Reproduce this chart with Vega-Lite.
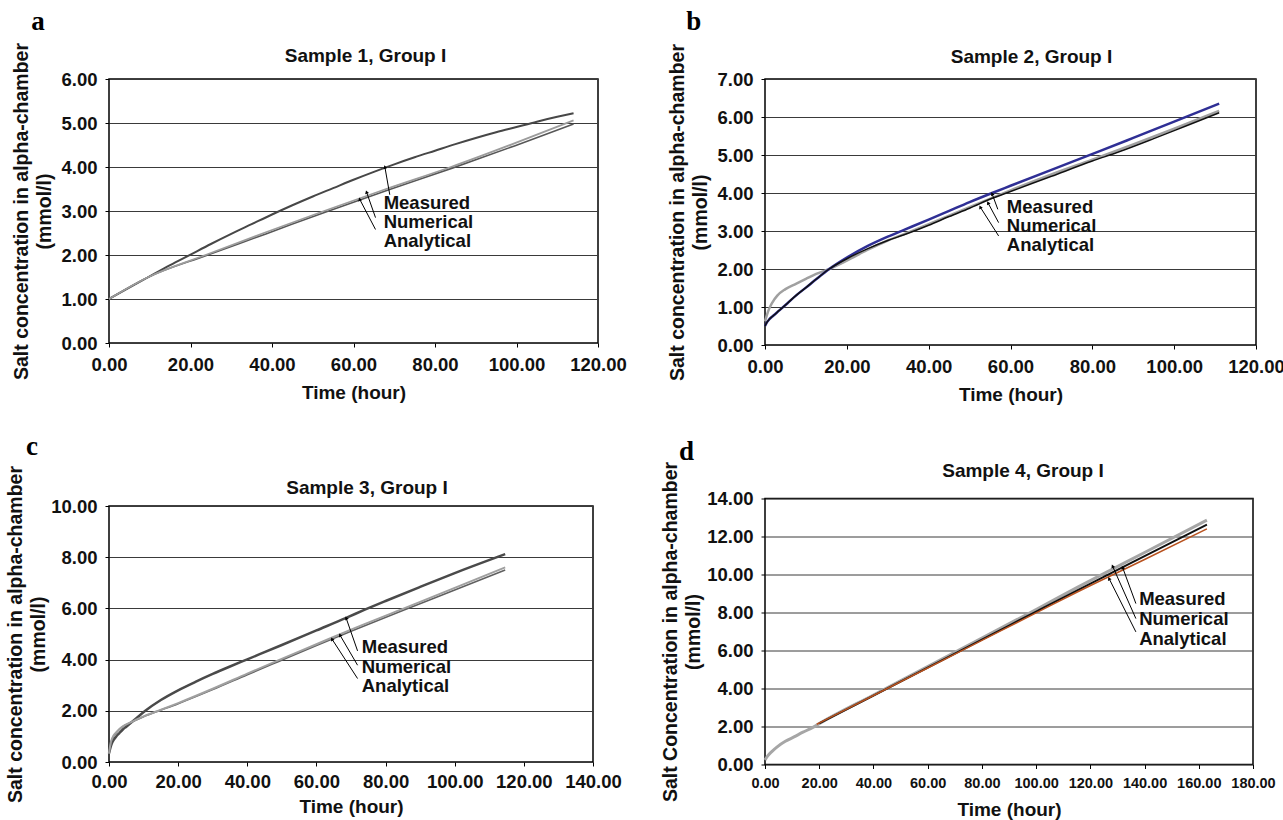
{
"$schema": "https://vega.github.io/schema/vega-lite/v6.json",
"background": "white",
"padding": {"left": 4, "top": 7, "right": 0, "bottom": 0},
"datasets": {
"a_lines": [
{"s":"Measured","t":0,"v":1.0},{"s":"Measured","t":9.7,"v":1.5},{"s":"Measured","t":15,"v":1.77},{"s":"Measured","t":20,"v":2.01},{"s":"Measured","t":25,"v":2.25},{"s":"Measured","t":30,"v":2.48},{"s":"Measured","t":35,"v":2.7},{"s":"Measured","t":40,"v":2.92},{"s":"Measured","t":45,"v":3.13},{"s":"Measured","t":50,"v":3.33},{"s":"Measured","t":55,"v":3.52},{"s":"Measured","t":60,"v":3.71},{"s":"Measured","t":65,"v":3.89},{"s":"Measured","t":70,"v":4.06},{"s":"Measured","t":75,"v":4.22},{"s":"Measured","t":80,"v":4.37},{"s":"Measured","t":85,"v":4.52},{"s":"Measured","t":90,"v":4.66},{"s":"Measured","t":95,"v":4.79},{"s":"Measured","t":100,"v":4.91},{"s":"Measured","t":105,"v":5.03},{"s":"Measured","t":110,"v":5.14},{"s":"Measured","t":114,"v":5.22},
{"s":"Numerical","t":0,"v":1.0},{"s":"Numerical","t":9.7,"v":1.5},{"s":"Numerical","t":23.7,"v":2.0},{"s":"Numerical","t":38,"v":2.5},{"s":"Numerical","t":52.8,"v":3.0},{"s":"Numerical","t":68,"v":3.5},{"s":"Numerical","t":83.9,"v":4.0},{"s":"Numerical","t":99,"v":4.52},{"s":"Numerical","t":114,"v":5.06},
{"s":"Analytical","t":0,"v":1.0},{"s":"Analytical","t":9.7,"v":1.5},{"s":"Analytical","t":23.9,"v":1.99},{"s":"Analytical","t":38.5,"v":2.48},{"s":"Analytical","t":53.2,"v":2.98},{"s":"Analytical","t":68.5,"v":3.48},{"s":"Analytical","t":84.4,"v":3.98},{"s":"Analytical","t":99.5,"v":4.48},{"s":"Analytical","t":114,"v":4.98}
],
"a_arrows": [
{"t":67.7,"v":4.0,"t2":68.9,"v2":3.37},{"t":63.2,"v":3.43,"t2":65.4,"v2":2.85},{"t":61.5,"v":3.27,"t2":65.4,"v2":2.58}
],
"a_notes": [
{"t":67.4,"v":3.19,"label":"Measured"},{"t":67.4,"v":2.755,"label":"Numerical"},{"t":67.4,"v":2.32,"label":"Analytical"}
],
"b_lines": [
{"s":"Measured","t":0,"v":0.5},{"s":"Measured","t":0.5,"v":0.6},{"s":"Measured","t":1,"v":0.67},{"s":"Measured","t":2,"v":0.77},{"s":"Measured","t":3.5,"v":0.91},{"s":"Measured","t":5.5,"v":1.1},{"s":"Measured","t":7.55,"v":1.3},{"s":"Measured","t":10,"v":1.51},{"s":"Measured","t":12.5,"v":1.73},{"s":"Measured","t":15.7,"v":2.0},{"s":"Measured","t":20,"v":2.3},{"s":"Measured","t":25,"v":2.6},{"s":"Measured","t":30,"v":2.85},{"s":"Measured","t":34,"v":3.03},{"s":"Measured","t":40,"v":3.3},{"s":"Measured","t":45,"v":3.53},{"s":"Measured","t":50,"v":3.76},{"s":"Measured","t":55.5,"v":4.0},{"s":"Measured","t":60,"v":4.19},{"s":"Measured","t":70,"v":4.61},{"s":"Measured","t":81.8,"v":5.1},{"s":"Measured","t":90,"v":5.45},{"s":"Measured","t":100,"v":5.88},{"s":"Measured","t":111,"v":6.35},
{"s":"Numerical","t":0,"v":0.62},{"s":"Numerical","t":0.5,"v":0.8},{"s":"Numerical","t":1,"v":0.95},{"s":"Numerical","t":1.86,"v":1.13},{"s":"Numerical","t":3,"v":1.3},{"s":"Numerical","t":5,"v":1.47},{"s":"Numerical","t":7.55,"v":1.61},{"s":"Numerical","t":10,"v":1.74},{"s":"Numerical","t":12.5,"v":1.87},{"s":"Numerical","t":15.7,"v":2.0},{"s":"Numerical","t":20,"v":2.22},{"s":"Numerical","t":25,"v":2.5},{"s":"Numerical","t":30,"v":2.75},{"s":"Numerical","t":34,"v":2.92},{"s":"Numerical","t":40,"v":3.18},{"s":"Numerical","t":50,"v":3.63},{"s":"Numerical","t":60,"v":4.07},{"s":"Numerical","t":70,"v":4.49},{"s":"Numerical","t":80,"v":4.88},{"s":"Numerical","t":90,"v":5.28},{"s":"Numerical","t":100,"v":5.69},{"s":"Numerical","t":111,"v":6.16},
{"s":"Analytical","t":0,"v":0.5},{"s":"Analytical","t":0.5,"v":0.6},{"s":"Analytical","t":1,"v":0.67},{"s":"Analytical","t":2,"v":0.77},{"s":"Analytical","t":3.5,"v":0.91},{"s":"Analytical","t":5.5,"v":1.1},{"s":"Analytical","t":7.55,"v":1.3},{"s":"Analytical","t":10,"v":1.51},{"s":"Analytical","t":12.5,"v":1.73},{"s":"Analytical","t":15.7,"v":2.0},{"s":"Analytical","t":20,"v":2.27},{"s":"Analytical","t":25,"v":2.53},{"s":"Analytical","t":30,"v":2.75},{"s":"Analytical","t":34,"v":2.9},{"s":"Analytical","t":40,"v":3.15},{"s":"Analytical","t":45,"v":3.38},{"s":"Analytical","t":50,"v":3.6},{"s":"Analytical","t":55.5,"v":3.86},{"s":"Analytical","t":60,"v":4.04},{"s":"Analytical","t":70,"v":4.44},{"s":"Analytical","t":80,"v":4.84},{"s":"Analytical","t":86.7,"v":5.09},{"s":"Analytical","t":95,"v":5.43},{"s":"Analytical","t":103,"v":5.77},{"s":"Analytical","t":111,"v":6.11}
],
"b_arrows": [
{"t":55.5,"v":3.98,"t2":56.9,"v2":3.57},{"t":54.5,"v":3.74,"t2":57.1,"v2":3.22},{"t":52.6,"v":3.63,"t2":57.1,"v2":2.87}
],
"b_notes": [
{"t":59.1,"v":3.62,"label":"Measured"},{"t":59.1,"v":3.13,"label":"Numerical"},{"t":59.1,"v":2.64,"label":"Analytical"}
],
"c_lines": [
{"s":"Measured","t":0,"v":0.33},{"s":"Measured","t":0.5,"v":0.6},{"s":"Measured","t":1,"v":0.78},{"s":"Measured","t":2,"v":0.98},{"s":"Measured","t":3,"v":1.13},{"s":"Measured","t":4,"v":1.27},{"s":"Measured","t":5,"v":1.38},{"s":"Measured","t":6.6,"v":1.56},{"s":"Measured","t":8,"v":1.72},{"s":"Measured","t":10.5,"v":2.0},{"s":"Measured","t":15,"v":2.42},{"s":"Measured","t":20,"v":2.8},{"s":"Measured","t":25,"v":3.13},{"s":"Measured","t":30,"v":3.44},{"s":"Measured","t":35,"v":3.73},{"s":"Measured","t":40,"v":4.01},{"s":"Measured","t":50,"v":4.57},{"s":"Measured","t":60,"v":5.14},{"s":"Measured","t":68.6,"v":5.63},{"s":"Measured","t":74,"v":5.95},{"s":"Measured","t":80,"v":6.29},{"s":"Measured","t":90,"v":6.84},{"s":"Measured","t":100,"v":7.38},{"s":"Measured","t":114.6,"v":8.12},
{"s":"Numerical","t":0,"v":0.33},{"s":"Numerical","t":0.5,"v":0.75},{"s":"Numerical","t":1,"v":0.95},{"s":"Numerical","t":2,"v":1.15},{"s":"Numerical","t":3,"v":1.29},{"s":"Numerical","t":4,"v":1.39},{"s":"Numerical","t":5,"v":1.47},{"s":"Numerical","t":6.6,"v":1.57},{"s":"Numerical","t":8,"v":1.66},{"s":"Numerical","t":10,"v":1.78},{"s":"Numerical","t":14.3,"v":2.0},{"s":"Numerical","t":20,"v":2.3},{"s":"Numerical","t":30,"v":2.86},{"s":"Numerical","t":40,"v":3.45},{"s":"Numerical","t":49.1,"v":3.98},{"s":"Numerical","t":60,"v":4.6},{"s":"Numerical","t":70,"v":5.17},{"s":"Numerical","t":85.7,"v":6.02},{"s":"Numerical","t":100,"v":6.8},{"s":"Numerical","t":114.6,"v":7.6},
{"s":"Analytical","t":0,"v":0.33},{"s":"Analytical","t":0.5,"v":0.72},{"s":"Analytical","t":1,"v":0.92},{"s":"Analytical","t":2,"v":1.12},{"s":"Analytical","t":3,"v":1.27},{"s":"Analytical","t":4,"v":1.38},{"s":"Analytical","t":5,"v":1.46},{"s":"Analytical","t":6.6,"v":1.56},{"s":"Analytical","t":8,"v":1.65},{"s":"Analytical","t":10,"v":1.77},{"s":"Analytical","t":14.3,"v":1.99},{"s":"Analytical","t":20,"v":2.28},{"s":"Analytical","t":30,"v":2.83},{"s":"Analytical","t":40,"v":3.41},{"s":"Analytical","t":49.1,"v":3.93},{"s":"Analytical","t":60,"v":4.55},{"s":"Analytical","t":70,"v":5.11},{"s":"Analytical","t":85.7,"v":5.96},{"s":"Analytical","t":100,"v":6.72},{"s":"Analytical","t":114.6,"v":7.5}
],
"c_arrows": [
{"t":68.6,"v":5.62,"t2":71.9,"v2":4.34},{"t":66.8,"v":4.96,"t2":71.9,"v2":3.78},{"t":64.5,"v":4.8,"t2":71.9,"v2":3.26}
],
"c_notes": [
{"t":73.1,"v":4.51,"label":"Measured"},{"t":73.1,"v":3.73,"label":"Numerical"},{"t":73.1,"v":2.96,"label":"Analytical"}
],
"d_lines": [
{"s":"Numerical","t":0,"v":0.24},{"s":"Numerical","t":1,"v":0.45},{"s":"Numerical","t":2.5,"v":0.68},{"s":"Numerical","t":4.5,"v":0.93},{"s":"Numerical","t":7.5,"v":1.22},{"s":"Numerical","t":10.7,"v":1.45},{"s":"Numerical","t":14,"v":1.7},{"s":"Numerical","t":16.8,"v":1.89},{"s":"Numerical","t":18,"v":1.98},{"s":"Numerical","t":20,"v":2.15},{"s":"Numerical","t":40,"v":3.66},{"s":"Numerical","t":60,"v":5.15},{"s":"Numerical","t":80,"v":6.65},{"s":"Numerical","t":100,"v":8.16},{"s":"Numerical","t":115.2,"v":9.32},{"s":"Numerical","t":140,"v":11.16},{"s":"Numerical","t":163,"v":12.86},
{"s":"Analytical","t":20,"v":2.16},{"s":"Analytical","t":40,"v":3.63},{"s":"Analytical","t":60,"v":5.1},{"s":"Analytical","t":80,"v":6.57},{"s":"Analytical","t":100,"v":8.05},{"s":"Analytical","t":115.2,"v":9.17},{"s":"Analytical","t":140,"v":10.97},{"s":"Analytical","t":163,"v":12.63},
{"s":"Measured","t":19.1,"v":2.12},{"s":"Measured","t":40,"v":3.63},{"s":"Measured","t":60,"v":5.08},{"s":"Measured","t":80,"v":6.53},{"s":"Measured","t":100,"v":7.98},{"s":"Measured","t":115.2,"v":9.08},{"s":"Measured","t":140,"v":10.79},{"s":"Measured","t":163,"v":12.4}
],
"d_arrows": [
{"t":131.9,"v":10.37,"t2":136.8,"v2":8.47},{"t":128.2,"v":10.44,"t2":136.8,"v2":7.68},{"t":126.9,"v":9.79,"t2":136.8,"v2":6.98}
],
"d_notes": [
{"t":138,"v":8.71,"label":"Measured"},{"t":138,"v":7.65,"label":"Numerical"},{"t":138,"v":6.6,"label":"Analytical"}
]
},
"columns": 2,
"align": "none",
"spacing": 31,
"concat": [
{"concat": [
{"title": {"text": "a", "font": "Liberation Serif", "fontSize": 27, "fontWeight": "bold", "color": "#000", "anchor": "start", "frame": "bounds", "dx": 20, "offset": -21.1, "baseline": "bottom"},
 "vconcat": [{
  "width": 489, "height": 264,
  "title": {"text": "Sample 1, Group I", "dx": 12, "offset": -23.1, "frame": "group"},
  "encoding": {
   "x": {"field": "t", "type": "quantitative", "scale": {"domain": [0, 120], "nice": false, "zero": false}, "axis": {"title": "Time (hour)", "values": [0, 20, 40, 60, 80, 100, 120], "format": ".2f"}},
   "y": {"field": "v", "type": "quantitative", "scale": {"domain": [0, 6], "nice": false, "zero": false}, "axis": {"title": ["Salt concentration in alpha-chamber", "(mmol/l)"], "values": [0, 1, 2, 3, 4, 5, 6], "format": ".2f", "titlePadding": 6}}
  },
  "layer": [
   {"data": {"name": "a_lines"}, "transform": [{"filter": "datum.s === 'Measured'"}], "mark": {"type": "line", "color": "#474747", "strokeWidth": 2, "interpolate": "monotone"}},
   {"data": {"name": "a_lines"}, "transform": [{"filter": "datum.s === 'Analytical'"}], "mark": {"type": "line", "color": "#575757", "strokeWidth": 1.6, "interpolate": "monotone"}},
   {"data": {"name": "a_lines"}, "transform": [{"filter": "datum.s === 'Numerical'"}], "mark": {"type": "line", "color": "#9c9c9c", "strokeWidth": 1.8, "interpolate": "monotone"}},
   {"data": {"name": "a_arrows"}, "mark": {"type": "rule", "color": "#000", "strokeWidth": 1}, "encoding": {"x2": {"field": "t2"}, "y2": {"field": "v2"}}},
   {"data": {"name": "a_arrows"}, "mark": {"type": "point", "shape": "triangle-up", "filled": true, "color": "#000", "opacity": 1, "size": 16, "angle": -18}},
   {"data": {"name": "a_notes"}, "mark": {"type": "text", "align": "left", "baseline": "middle", "fontSize": 18.5, "fontWeight": "bold", "color": "#111"}, "encoding": {"text": {"field": "label"}}}
  ]
 }]
},
{"title": {"text": "c", "font": "Liberation Serif", "fontSize": 27, "fontWeight": "bold", "color": "#000", "anchor": "start", "frame": "bounds", "dx": 21, "offset": -23.3, "baseline": "bottom"},
 "vconcat": [{
  "width": 484, "height": 256,
  "title": {"text": "Sample 3, Group I", "dx": 16, "offset": -32.8, "frame": "group"},
  "encoding": {
   "x": {"field": "t", "type": "quantitative", "scale": {"domain": [0, 140], "nice": false, "zero": false}, "axis": {"title": "Time (hour)", "values": [0, 20, 40, 60, 80, 100, 120, 140], "format": ".2f", "titlePadding": 7, "labelPadding": 6}},
   "y": {"field": "v", "type": "quantitative", "scale": {"domain": [0, 10], "nice": false, "zero": false}, "axis": {"title": ["Salt concentration in alpha-chamber", "(mmol/l)"], "values": [0, 2, 4, 6, 8, 10], "format": ".2f", "titlePadding": 2}}
  },
  "layer": [
   {"data": {"name": "c_lines"}, "transform": [{"filter": "datum.s === 'Measured'"}], "mark": {"type": "line", "color": "#4a4a4a", "strokeWidth": 2.5, "interpolate": "monotone"}},
   {"data": {"name": "c_lines"}, "transform": [{"filter": "datum.s === 'Analytical'"}], "mark": {"type": "line", "color": "#606060", "strokeWidth": 1.6, "interpolate": "monotone"}},
   {"data": {"name": "c_lines"}, "transform": [{"filter": "datum.s === 'Numerical'"}], "mark": {"type": "line", "color": "#a0a0a0", "strokeWidth": 2, "interpolate": "monotone"}},
   {"data": {"name": "c_arrows"}, "mark": {"type": "rule", "color": "#000", "strokeWidth": 1}, "encoding": {"x2": {"field": "t2"}, "y2": {"field": "v2"}}},
   {"data": {"name": "c_arrows"}, "mark": {"type": "point", "shape": "triangle-up", "filled": true, "color": "#000", "opacity": 1, "size": 16, "angle": -28}},
   {"data": {"name": "c_notes"}, "mark": {"type": "text", "align": "left", "baseline": "middle", "fontSize": 18.5, "fontWeight": "bold", "color": "#111"}, "encoding": {"text": {"field": "label"}}}
  ]
 }]
}
], "columns": 1, "align": "none", "spacing": 29},
{"concat": [
{"title": {"text": "b", "font": "Liberation Serif", "fontSize": 27, "fontWeight": "bold", "color": "#000", "anchor": "start", "frame": "bounds", "dx": 19, "offset": -20.1, "baseline": "bottom"},
 "vconcat": [{
  "width": 491, "height": 266,
  "title": {"text": "Sample 2, Group I", "dx": 21, "offset": -23.1, "frame": "group"},
  "encoding": {
   "x": {"field": "t", "type": "quantitative", "scale": {"domain": [0, 120], "nice": false, "zero": false}, "axis": {"title": "Time (hour)", "values": [0, 20, 40, 60, 80, 100, 120], "format": ".2f"}},
   "y": {"field": "v", "type": "quantitative", "scale": {"domain": [0, 7], "nice": false, "zero": false}, "axis": {"title": ["Salt concentration in alpha-chamber", "(mmol/l)"], "values": [0, 1, 2, 3, 4, 5, 6, 7], "format": ".2f", "titlePadding": 6}}
  },
  "layer": [
   {"data": {"name": "b_lines"}, "transform": [{"filter": "datum.s === 'Numerical'"}], "mark": {"type": "line", "color": "#a0a0a0", "strokeWidth": 2.5, "interpolate": "monotone"}},
   {"data": {"name": "b_lines"}, "transform": [{"filter": "datum.s === 'Measured'"}], "mark": {"type": "line", "color": "#2f2f95", "strokeWidth": 2.5, "interpolate": "monotone"}},
   {"data": {"name": "b_lines"}, "transform": [{"filter": "datum.s === 'Analytical'"}], "mark": {"type": "line", "color": "#111111", "strokeWidth": 1.5, "interpolate": "monotone"}},
   {"data": {"name": "b_arrows"}, "mark": {"type": "rule", "color": "#000", "strokeWidth": 1}, "encoding": {"x2": {"field": "t2"}, "y2": {"field": "v2"}}},
   {"data": {"name": "b_arrows"}, "mark": {"type": "point", "shape": "triangle-up", "filled": true, "color": "#000", "opacity": 1, "size": 16, "angle": -27}},
   {"data": {"name": "b_notes"}, "mark": {"type": "text", "align": "left", "baseline": "middle", "fontSize": 18.5, "fontWeight": "bold", "color": "#111"}, "encoding": {"text": {"field": "label"}}}
  ]
 }]
},
{"title": {"text": "d", "font": "Liberation Serif", "fontSize": 27, "fontWeight": "bold", "color": "#000", "anchor": "start", "frame": "bounds", "dx": 19, "offset": -32.7, "baseline": "bottom"},
 "vconcat": [{
  "width": 488, "height": 266,
  "title": {"text": "Sample 4, Group I", "dx": 14, "offset": -20, "frame": "group"},
  "encoding": {
   "x": {"field": "t", "type": "quantitative", "scale": {"domain": [0, 180], "nice": false, "zero": false}, "axis": {"title": "Time (hour)", "values": [0, 20, 40, 60, 80, 100, 120, 140, 160, 180], "format": ".2f", "labelFontSize": 14.5}},
   "y": {"field": "v", "type": "quantitative", "scale": {"domain": [0, 14], "nice": false, "zero": false}, "axis": {"title": ["Salt Concentration in alpha-chamber", "(mmol/l)"], "values": [0, 2, 4, 6, 8, 10, 12, 14], "format": ".2f", "titlePadding": 3}}
  },
  "layer": [
   {"data": {"name": "d_lines"}, "transform": [{"filter": "datum.s === 'Numerical'"}], "mark": {"type": "line", "color": "#a6a6a6", "strokeWidth": 3, "interpolate": "monotone"}},
   {"data": {"name": "d_lines"}, "transform": [{"filter": "datum.s === 'Analytical'"}], "mark": {"type": "line", "color": "#111111", "strokeWidth": 2, "interpolate": "monotone"}},
   {"data": {"name": "d_lines"}, "transform": [{"filter": "datum.s === 'Measured'"}], "mark": {"type": "line", "color": "#b8521f", "strokeWidth": 1.5, "interpolate": "monotone"}},
   {"data": {"name": "d_arrows"}, "mark": {"type": "rule", "color": "#000", "strokeWidth": 1}, "encoding": {"x2": {"field": "t2"}, "y2": {"field": "v2"}}},
   {"data": {"name": "d_arrows"}, "mark": {"type": "point", "shape": "triangle-up", "filled": true, "color": "#000", "opacity": 1, "size": 16, "angle": -24}},
   {"data": {"name": "d_notes"}, "mark": {"type": "text", "align": "left", "baseline": "middle", "fontSize": 18.5, "fontWeight": "bold", "color": "#111"}, "encoding": {"text": {"field": "label"}}}
  ]
 }]
}
], "columns": 1, "align": "none", "spacing": 31.5}
],
"config": {
 "font": "Liberation Sans",
 "view": {"stroke": "#000", "strokeWidth": 1.5},
 "axis": {"labelFont": "Liberation Sans", "labelFontSize": 18.5, "labelFontWeight": "bold", "labelColor": "#111", "titleFont": "Liberation Sans", "titleFontSize": 19.5, "titleFontWeight": "bold", "titleColor": "#111", "tickSize": 4, "tickColor": "#000", "tickWidth": 1, "labelPadding": 8, "domain": false, "labelFlush": false, "labelOverlap": false, "grid": false},
 "axisY": {"grid": true, "gridColor": "#3a3a3a", "gridWidth": 1, "titleLineHeight": 23},
 "axisX": {"titlePadding": 10, "titleFontSize": 19},
 "title": {"font": "Liberation Sans", "fontSize": 19, "fontWeight": "bold", "color": "#111", "baseline": "bottom"}
}
}
